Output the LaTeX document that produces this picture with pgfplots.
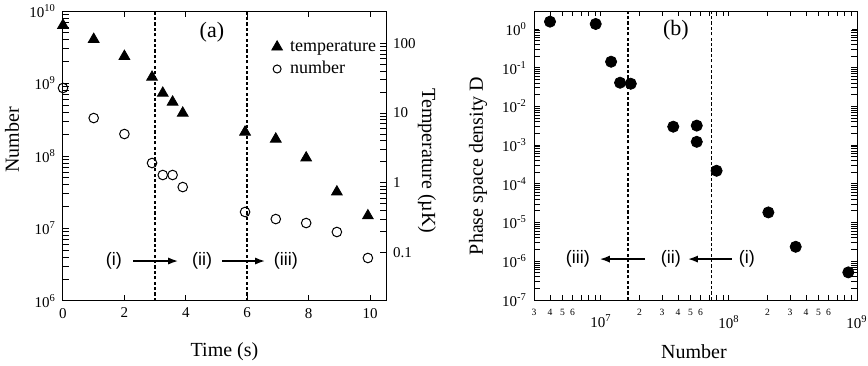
\documentclass[border=0pt]{standalone}
\usepackage{fontspec}
\setmainfont{Liberation Serif}
\newfontfamily\sansf{Liberation Sans}
\usepackage{pgfplots}
\usepackage{pgfplotstable}
\pgfplotsset{compat=1.18}
\usetikzlibrary{arrows.meta}

% time (s), atom number
\pgfplotstableread{
t N
0 8.67e8
1 3.34e8
2 2.01e8
2.9 8.0e7
3.25 5.47e7
3.57 5.47e7
3.9 3.73e7
5.93 1.69e7
6.93 1.35e7
7.92 1.19e7
8.92 8.95e6
9.93 3.92e6
}\numdata
% time (s), temperature (uK)
\pgfplotstableread{
t T
0 181
1 114
2 65
2.9 32.7
3.25 19.3
3.57 14.4
3.9 10
5.93 5.35
6.93 4.25
7.92 2.28
8.92 0.743
9.93 0.338
}\tempdata
% number, phase space density
\pgfplotstableread{
N D
4.0e6 1.55
9.1e6 1.35
1.2e7 0.143
1.41e7 0.041
1.71e7 0.0386
3.67e7 0.0030
5.6e7 0.0032
5.6e7 0.00122
8.0e7 2.18e-4
2.03e8 1.83e-5
3.32e8 2.37e-6
8.55e8 5.17e-7
}\psddata

\pgfplotsset{
  panel/.style={scale only axis, clip=false, tick align=inside,
    axis line style={line width=0.5pt},
    every tick/.style={black, line width=0.5pt},
    major tick length=3pt,
    tick label style={font=\fontsize{7.5}{8}\selectfont},
    label style={font=\fontsize{12}{14}\selectfont}},
}
\tikzset{
  vline/.style={dash pattern=on 1.6pt off 1.1pt, line width=0.8pt},
  stepar/.style={-{Latex[length=5pt,width=3.6pt]}, line width=0.8pt},
  steplabel/.style={font=\sansf\fontsize{9}{10}\selectfont},
}
\newcommand{\decade}[1]{\fontsize{7.5}{8}\selectfont 10\textsuperscript{#1}}

\begin{document}
\begin{tikzpicture}
\useasboundingbox (-31.5pt,-32pt) rectangle (402.5pt,150.5pt);

% (a) number axis
\begin{axis}[panel, at={(0pt,0pt)}, anchor=south west,
  width=161.5pt, height=145pt,
  xmin=0, xmax=10.52, ymode=log, ymin=1e6, ymax=1e10,
  axis y line*=left,
  xtick={0,2,4,6,8,10}, xticklabels={0,2,4,6,8,10},
  ytick={1e6,1e7,1e8,1e9,1e10}, minor ytick={},
  yticklabels={10\textsuperscript{6},10\textsuperscript{7},10\textsuperscript{8},10\textsuperscript{9},10\textsuperscript{10}},
  xlabel={Time (s)}, ylabel={Number},
  every axis x label/.style={at={(axis description cs:0.5,-0.176)}, anchor=center},
  every axis y label/.style={at={(axis description cs:-0.158,0.555)}, anchor=center, rotate=90},
]
\draw[vline] (axis cs:3,1e6) -- (axis cs:3,1e10);
\draw[vline] (axis cs:6,1e6) -- (axis cs:6,1e10);
\addplot[only marks, mark=o, mark size=2.4pt, mark options={line width=0.5pt}] table[x=t, y=N] {\numdata};
\draw[stepar] (axis cs:2.28,3.56e6) -- (axis cs:3.75,3.56e6);
\draw[stepar] (axis cs:5.18,3.56e6) -- (axis cs:6.58,3.56e6);
\node[steplabel] at (axis cs:1.66,3.56e6) {(i)};
\node[steplabel] at (axis cs:4.53,3.56e6) {(ii)};
\node[steplabel] at (axis cs:7.26,3.56e6) {(iii)};
\node[font=\fontsize{11}{12}\selectfont] at (axis cs:4.85,5.1e9) {(a)};
\end{axis}

% (a) temperature axis
\begin{axis}[panel, at={(0pt,0pt)}, anchor=south west,
  width=161.5pt, height=145pt,
  xmin=0, xmax=10.52, ymode=log, ymin=0.0203, ymax=290,
  axis x line=none, axis y line*=right,
  ytick={0.1,1,10,100}, yticklabels={0.1,1,10,100}, minor ytick={},
  ylabel={Temperature (\textmu K)},
  every axis y label/.style={at={(axis description cs:1.127,0.483)}, anchor=center, rotate=-90},
  legend style={at={(axis description cs:0.64,0.91)}, anchor=north west,
    draw=none, fill=none, inner sep=0pt, row sep=1.5pt,
    font=\fontsize{9}{10}\selectfont,
    nodes={inner sep=0.5pt, text height=6.5pt, text depth=2pt}},
  legend cell align=left,
  legend image code/.code={\path[draw=none, fill=none] (0pt,0pt) rectangle (9.5pt,0.1pt); \draw[#1] plot coordinates {(3.5pt,0pt)};},
]
\addplot[only marks, mark=triangle*, mark size=3.1pt] table[x=t, y=T] {\tempdata};
\addlegendentry{temperature}
\addlegendimage{only marks, mark=o, mark size=2pt, mark options={line width=0.5pt}}
\addlegendentry{number}
\end{axis}

% (b) phase space density
\begin{axis}[panel, at={(235.5pt,0.5pt)}, anchor=south west,
  width=161.5pt, height=144.5pt,
  xmode=log, xmin=3e6, xmax=1e9, ymode=log, ymin=1e-7, ymax=2.92,
  major tick length=2.6pt,
  xtick={3e6,4e6,5e6,6e6,7e6,8e6,9e6,2e7,3e7,4e7,5e7,6e7,7e7,8e7,9e7,2e8,3e8,4e8,5e8,6e8,7e8,8e8,9e8},
  xticklabels={3,4,5,6,,,,2,3,4,5,6,,,,2,3,4,5,6,,,},
  minor xtick={},
  x tick label style={font=\fontsize{4.8}{5}\selectfont, yshift=-1pt},
  extra x ticks={1e7,1e8,1e9},
  extra x tick labels={\decade{7},\decade{8},\decade{9}},
  extra x tick style={tick label style={yshift=-3pt}},
  ytick={1e-7,1e-6,1e-5,1e-4,1e-3,1e-2,1e-1,1}, minor ytick={},
  yticklabels={10\textsuperscript{-7},10\textsuperscript{-6},10\textsuperscript{-5},10\textsuperscript{-4},10\textsuperscript{-3},10\textsuperscript{-2},10\textsuperscript{-1},10\textsuperscript{0}},
  xlabel={Number}, ylabel={Phase space density D},
  every axis x label/.style={at={(axis description cs:0.495,-0.18)}, anchor=center},
  every axis y label/.style={at={(axis description cs:-0.173,0.464)}, anchor=center, rotate=90},
]
\draw[vline] (axis cs:1.63e7,1e-7) -- (axis cs:1.63e7,2.92);
\draw[vline] (axis cs:7.3e7,1e-7) -- (axis cs:7.3e7,2.92);
\addplot[only marks, mark=*, mark size=2.8pt] table[x=N, y=D] {\psddata};
\draw[stepar] (axis cs:2.21e7,1.14e-6) -- (axis cs:9.8e6,1.14e-6);
\draw[stepar] (axis cs:1.05e8,1.14e-6) -- (axis cs:4.78e7,1.14e-6);
\node[steplabel] at (axis cs:6.6e6,1.14e-6) {(iii)};
\node[steplabel] at (axis cs:3.52e7,1.14e-6) {(ii)};
\node[steplabel] at (axis cs:1.38e8,1.14e-6) {(i)};
\node[font=\fontsize{11}{12}\selectfont] at (axis cs:3.85e7,0.94) {(b)};
\end{axis}
\end{tikzpicture}
\end{document}
